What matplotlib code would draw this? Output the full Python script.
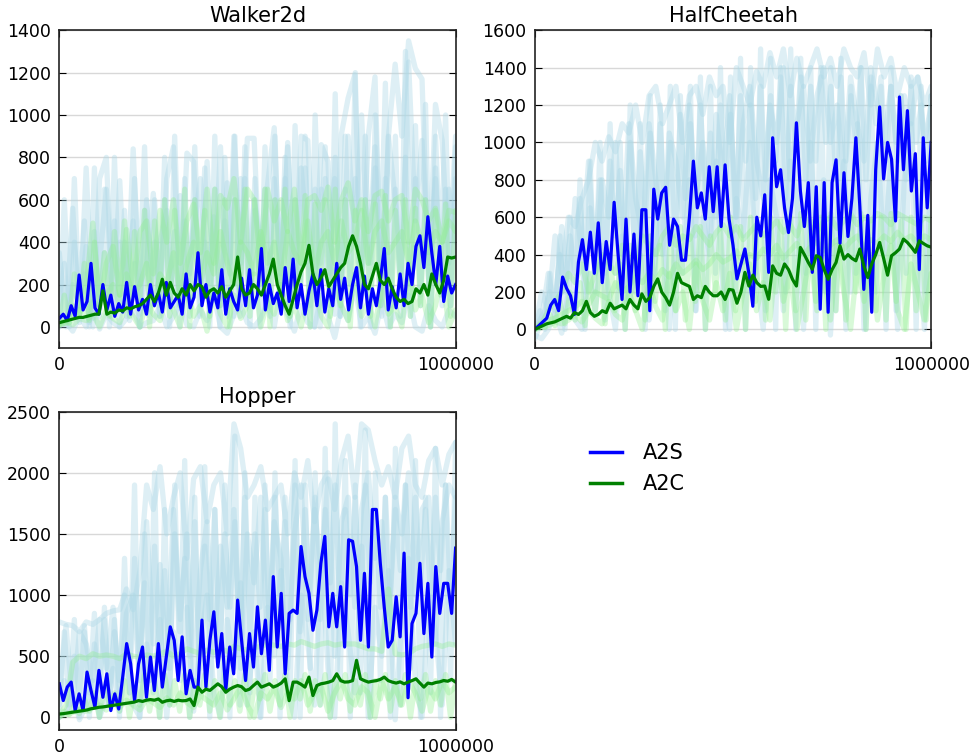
import numpy as np
import matplotlib
matplotlib.use('Agg')
import matplotlib.pyplot as plt
from matplotlib.lines import Line2D

# ---------------- Walker2d ----------------
walker_a2s = [40, 60, 30, 100, 50, 245, 80, 120, 300, 90,
              60, 200, 80, 150, 50, 110, 70, 210, 60, 190,
              80, 130, 60, 200, 100, 160, 70, 210, 90, 120,
              150, 60, 250, 90, 140, 350, 100, 200, 70, 160,
              90, 270, 60, 180, 120, 80, 230, 100, 270, 90,
              150, 370, 80, 200, 110, 160, 60, 280, 120, 320,
              90, 200, 60, 170, 250, 100, 270, 70, 180, 100,
              300, 130, 230, 80, 200, 280, 90, 240, 60, 180,
              100, 220, 370, 80, 190, 90, 250, 100, 300, 200,
              380, 430, 280, 520, 350, 200, 380, 120, 240, 160, 200]
walker_a2c = [20, 25, 30, 35, 40, 45, 45, 50, 55, 60,
              60, 170, 60, 70, 65, 80, 75, 90, 85, 95,
              100, 110, 130, 150, 120, 160, 225, 150, 210, 160,
              140, 180, 150, 200, 170, 200, 190, 140, 170, 180,
              160, 190, 140, 170, 200, 330, 180, 150, 160, 200,
              180, 150, 200, 250, 320, 200, 150, 100, 60, 130,
              200, 260, 300, 385, 250, 200, 230, 270, 190, 220,
              250, 280, 300, 380, 430, 380, 300, 200, 180, 240,
              300, 220, 200, 230, 180, 140, 120, 130, 110, 120,
              180, 160, 200, 150, 250, 200, 160, 220, 330, 325, 330]
walker_a2s_seeds = [
    [350, 30, 560, 20, 750, 40, 700, 800, 100, 690, 50, 840, 60, 300, 630, 50, 700, 850, 100, 820,
     780, 100, 780, 200, 850, 50, 900, 300, 890, 890, 150, 670, 940, 100, 870, 160, 900, 880, 200, 860,
     780, 60, 910, 1080, 1190, 150, 900, 1180, 100, 900, 1240, 900, 1350, 1220, 1170, 200, 1050, 880, 300, 900],
    [50, 0, 200, 100, 380, 0, 300, 650, 80, 400, 200, 500, 0, 600, 150, 400, 550, 100, 620, 150,
     450, 700, 200, 520, 100, 680, 50, 700, 200, 600, 400, 100, 700, 250, 850, 100, 750, 400, 0, 650,
     200, 700, 100, 900, 400, 1000, 300, 850, 50, 900, 600, 200, 1250, 500, 880, 300, 700, 100, 650, 400],
    [0, 20, -20, 50, 0, 100, -10, 60, 20, 0, 40, 80, 0, 20, 30, 100, 0, 50, 120, 10,
     0, 80, 30, 150, 0, -30, 60, 100, 20, 0, 40, 120, 0, 200, 60, -20, 100, 20, 0, 150,
     50, -50, 100, 30, 200, 0, 50, -30, 120, 0, 60, 20, 150, 0, -20, 100, 30, 0, 80, 50],
    [0, 600, 50, 700, 100, 500, 20, 750, 150, 650, 0, 800, 100, 550, 30, 700, 200, 850, 50, 600,
     100, 800, 0, 900, 150, 700, 50, 850, 200, 750, 0, 900, 100, 800, 250, 900, 50, 850, 150, 700,
     0, 850, 300, 900, 100, 800, 50, 950, 200, 900, 0, 1000, 300, 850, 100, 1100, 50, 900, 200, 1200,
     100, 900, 0, 1000, 300, 1150, 100, 900, 50, 1300, 200, 950, 100, 1050, 0, 900, 300, 1000, 100, 850],
    [20, 300, 0, 400, 100, 250, 0, 450, 50, 350, 150, 500, 0, 400, 100, 300, 0, 550, 200, 400,
     50, 600, 100, 450, 0, 500, 250, 600, 50, 400, 150, 650, 0, 500, 300, 600, 100, 700, 0, 550,
     200, 650, 50, 600, 300, 700, 0, 600, 150, 750, 100, 650, 0, 700, 250, 800, 50, 650, 200, 700,
     0, 600, 300, 750, 100, 700, 0, 650, 200, 800, 50, 700, 150, 600, 0, 750, 250, 650, 100, 700],
]
walker_a2c_seeds = [
    [10, 20, 100, 60, 200, 490, 100, 300, 380, 150, 460, 200, 450, 500, 250, 550, 400, 600, 300, 500,
     580, 350, 650, 300, 620, 560, 700, 400, 650, 600, 300, 650, 500, 600, 450, 650, 300, 600, 620, 550,
     660, 400, 600, 680, 500, 600, 450, 620, 640, 500, 600, 620, 400, 650, 600, 500, 560, 400, 550, 540],
    [10, 20, 10, 40, 30, 60, 0, 80, 40, 20, 100, 50, 0, 120, 60, 30, 150, 80, 0, 200,
     50, 100, -20, 180, 60, 0, 150, 40, 100, 250, 0, 120, 60, 200, 30, 100, 0, 150, 250, 50,
     0, 180, 100, 30, 250, 50, 120, 0, 200, 60, 100, 0, 300, 80, 150, 20, 100, 250, 0, 80],
    [15, 30, 50, 80, 60, 120, 100, 150, 200, 100, 250, 150, 200, 300, 100, 250, 200, 350, 150, 300,
     400, 200, 350, 250, 450, 300, 200, 400, 350, 250, 450, 300, 400, 200, 450, 350, 300, 500, 250, 400,
     450, 300, 500, 350, 400, 550, 300, 450, 500, 350, 400, 450, 300, 500, 400, 350, 450, 400, 500, 450],
    [10, 150, 20, 250, 50, 300, 30, 400, 100, 350, 50, 450, 150, 500, 50, 450, 100, 550, 0, 500,
     150, 600, 50, 550, 100, 650, 0, 600, 200, 550, 50, 650, 100, 600, 0, 600, 150, 650, 50, 600,
     200, 650, 0, 600, 100, 650, 50, 600, 150, 620, 0, 580, 200, 600, 50, 650, 100, 600, 0, 550,
     150, 600, 50, 580, 100, 620, 0, 550, 200, 600, 50, 560, 100, 600, 0, 550, 150, 580, 50, 550],
]

# ---------------- HalfCheetah ----------------
cheetah_a2s = [0, 20, 40, 60, 130, 160, 100, 280, 220, 180,
               80, 360, 480, 320, 520, 300, 570, 250, 470, 320,
               680, 400, 160, 590, 200, 510, 180, 640, 640, 100,
               750, 590, 730, 760, 450, 590, 550, 370, 370, 600,
               900, 650, 730, 590, 870, 630, 870, 550, 880, 590,
               450, 270, 350, 430, 300, 124, 600, 500, 720, 305,
               1025, 763, 854, 650, 518, 700, 1105, 740, 550, 785,
               305, 763, 108, 785, 92, 785, 907, 460, 838, 497,
               700, 1025, 657, 214, 610, 92, 854, 1190, 805, 1000,
               910, 580, 1243, 854, 1170, 740, 940, 320, 1025, 650, 1000]
cheetah_a2c = [0, 10, 20, 30, 35, 40, 50, 60, 70, 60,
               90, 80, 100, 150, 90, 70, 80, 100, 90, 140,
               110, 120, 130, 110, 160, 130, 110, 190, 150, 170,
               230, 270, 200, 170, 130, 200, 300, 250, 240, 230,
               160, 180, 170, 230, 200, 180, 180, 200, 160, 214,
               210, 140, 200, 305, 232, 290, 250, 230, 232, 161,
               340, 300, 290, 350, 320, 268, 232, 438, 400, 358,
               322, 394, 385, 320, 268, 320, 358, 447, 376, 400,
               380, 367, 430, 340, 277, 350, 400, 465, 380, 290,
               394, 410, 430, 483, 465, 440, 412, 474, 460, 447, 440]
cheetah_a2s_seeds = [
    [0, 200, 100, 500, 300, 600, 550, 700, 800, 1000, 900, 1030, 950, 1100, 1050, 1200, 1000, 1250, 1300, 1100,
     1200, 1300, 1000, 1250, 1300, 1150, 1350, 1250, 1300, 1000, 1400, 1300, 1200, 1380, 1300, 1480, 1350, 1500, 1250, 1450,
     1300, 1400, 1500, 1350, 1450, 1300, 1500, 1400, 1350, 1480, 1200, 1500, 1350, 1450, 1250, 1400, 1300, 1350, 1200, 1300],
    [-50, 50, 300, 100, 550, 200, 700, 400, 900, 300, 800, 600, 1000, 400, 1100, 700, 500, 1100, 800, 400,
     1050, 900, 600, 1200, 700, 1000, 500, 1150, 800, 1250, 600, 1100, 1300, 900, 700, 1200, 1000, 1400, 800, 1100,
     1300, 900, 1250, 1400, 1000, 1200, 800, 1350, 1100, 900, 1400, 1200, 1000, 1300, 900, 1250, 1100, 1350, 1000, 1200],
    [-30, -50, 0, 100, -20, 200, 50, 0, 300, 100, 450, 200, 0, 500, 150, 300, 600, 50, 400, 700,
     0, 500, 300, 800, 100, 600, 400, 900, 200, 0, 700, 500, 1000, 300, 0, 800, 600, 100, 900, 700,
     0, 1000, 400, 800, -30, 600, 900, 200, 1100, 0, 700, 1000, 400, 900, 0, 800, 1100, 500, 0, 900],
    [0, 100, 0, 300, 50, 500, 0, 600, 100, 800, 0, 900, 200, 1000, 50, 1100, 300, 1000, 0, 1200,
     200, 1100, 0, 1250, 300, 1200, 100, 1300, 0, 1250, 400, 1300, 100, 1350, 0, 1300, 300, 1400, 0, 1350,
     200, 1450, 0, 1400, 300, 1500, 100, 1450, 0, 1400, 200, 1500, 0, 1450, 300, 1400, 0, 1350, 200, 1400,
     100, 1450, 0, 1300, 300, 1400, 0, 1350, 200, 1300, 0, 1400, 100, 1250, 300, 1350, 0, 1300, 200, 1250],
    [0, 50, 100, 200, 150, 400, 200, 500, 300, 700, 200, 650, 400, 800, 300, 900, 500, 850, 400, 1000,
     300, 950, 600, 1050, 400, 1100, 600, 1000, 500, 1150, 700, 1100, 500, 1200, 700, 1050, 600, 1200, 800, 1150,
     600, 1250, 900, 1200, 700, 1300, 800, 1250, 900, 1350, 700, 1300, 1000, 1350, 800, 1300, 900, 1400, 1000, 1300,
     800, 1350, 900, 1250, 1000, 1400, 800, 1300, 1100, 1350, 900, 1300, 1000, 1250, 800, 1300, 1000, 1200, 900, 1250],
]
cheetah_a2c_seeds = [
    [0, 30, 100, 150, 200, 300, 250, 350, 200, 300, 400, 350, 300, 450, 400, 350, 500, 450, 400, 500,
     550, 450, 500, 480, 550, 500, 450, 520, 560, 500, 550, 480, 520, 560, 500, 540, 580, 520, 560, 500,
     600, 550, 520, 580, 600, 540, 580, 620, 560, 600, 580, 620, 600, 560, 620, 600, 580, 560, 600, 580],
    [0, 10, 20, 40, 30, 50, 80, 40, 100, 60, 30, 150, 80, 50, 200, 100, 0, 250, 120, 50,
     300, 100, 200, 0, 350, 150, 50, 250, 100, 300, 0, 200, 350, 100, 250, 50, 400, 150, 300, 0,
     200, 400, 100, 300, 50, 450, 200, 0, 350, 150, 400, 50, 300, 450, 100, 0, 350, 200, 50, 300],
    [10, 20, 50, 60, 80, 100, 120, 150, 130, 200, 180, 160, 250, 200, 230, 280, 250, 300, 260, 320,
     280, 350, 300, 330, 370, 320, 350, 400, 360, 380, 420, 360, 400, 380, 430, 400, 450, 380, 420, 460,
     400, 440, 470, 420, 450, 480, 430, 470, 500, 440, 480, 460, 500, 470, 520, 480, 500, 460, 500, 480],
    [0, 30, 10, 80, 20, 150, 30, 200, 50, 250, 20, 300, 80, 350, 30, 400, 100, 350, 0, 450,
     100, 400, 50, 500, 150, 450, 0, 500, 100, 550, 50, 500, 150, 550, 0, 500, 200, 550, 50, 600,
     100, 550, 0, 600, 150, 550, 50, 600, 200, 580, 0, 600, 100, 620, 50, 580, 150, 600, 0, 620,
     100, 580, 50, 600, 200, 620, 0, 580, 100, 600, 50, 620, 150, 580, 0, 600, 100, 580, 50, 600],
]

# ---------------- Hopper ----------------
hopper_a2s = [274, 137, 247, 288, 55, 192, 55, 370, 220, 82,
              384, 164, 356, 55, 192, 68, 329, 603, 438, 137,
              438, 575, 164, 493, 219, 603, 247, 493, 740, 630,
              301, 658, 192, 384, 247, 247, 795, 247, 630, 863,
              411, 685, 219, 575, 356, 959, 630, 301, 685, 411,
              904, 520, 795, 384, 1151, 575, 1014, 356, 850, 877,
              850, 1397, 1151, 1014, 712, 877, 1260, 1480, 740, 1014,
              740, 1069, 575, 1452, 1440, 1233, 630, 1178, 575, 1700,
              1700, 1260, 900, 575, 630, 986, 658, 1343, 160, 767,
              850, 1260, 685, 1096, 493, 1233, 850, 1096, 1096, 850, 1384]
hopper_a2c = [27, 30, 35, 40, 45, 50, 55, 60, 70, 75,
              82, 85, 90, 95, 100, 105, 110, 115, 120, 125,
              137, 130, 140, 145, 140, 150, 123, 135, 140, 130,
              140, 135, 137, 150, 96, 247, 205, 230, 220, 247,
              274, 250, 205, 230, 247, 260, 250, 219, 230, 260,
              288, 247, 260, 274, 247, 260, 280, 315, 136, 288,
              288, 270, 247, 329, 178, 260, 274, 280, 288, 300,
              356, 300, 288, 290, 300, 466, 315, 300, 288, 295,
              300, 310, 329, 300, 288, 280, 290, 274, 288, 300,
              315, 280, 247, 280, 274, 285, 290, 301, 295, 310, 288]
hopper_a2s_seeds = [
    [780, 760, 750, 700, 780, 760, 800, 850, 870, 880, 1050, 880, 1200, 1900, 1700, 2050, 1500, 1800, 2000, 1300,
     1950, 2050, 1600, 1900, 2000, 1500, 2400, 2200, 1800, 1900, 2050, 1700, 1800, 1900, 1500, 2000, 1800, 2100, 1600, 1900,
     2000, 1700, 2100, 2300, 1800, 2400, 2350, 2100, 1900, 2050, 1800, 2200, 2300, 1900, 1800, 2100, 2200, 1900, 2150, 2250],
    [200, 750, 100, 700, 600, 300, 800, 400, 900, 200, 850, 1000, 300, 1600, 600, 1250, 400, 1700, 800, 1500,
     300, 1200, 1600, 500, 1400, 900, 1700, 400, 1500, 1100, 1800, 600, 1600, 1300, 400, 1500, 1900, 800, 1700, 1200,
     1950, 500, 1600, 1800, 900, 1700, 2000, 1300, 1600, 700, 1800, 1500, 2000, 1000, 1700, 1800, 600, 1600, 1900, 1800],
    [0, 50, 200, -20, 100, 300, 0, 150, 400, 50, 500, 100, 0, 600, 200, 800, 0, 700, 300, 900,
     50, 600, 1000, 200, 0, 800, 400, 1100, 100, 700, 0, 900, 500, 1200, 200, 0, 1000, 600, 100, 1300,
     400, 0, 1100, 700, 200, 1400, 0, 900, 500, 1200, -20, 800, 1300, 300, 0, 1000, 700, 100, 1200, 600],
    [0, 700, 100, 800, 0, 750, 200, 850, 0, 900, 100, 800, 0, 1300, 200, 1900, 0, 1500, 300, 2000,
     0, 1700, 100, 1900, 400, 2100, 0, 1800, 200, 2050, 0, 1700, 300, 1900, 0, 2300, 100, 2000, 200, 1800,
     0, 1900, 300, 2000, 0, 1800, 200, 2100, 0, 1900, 400, 2000, 100, 2200, 0, 2400, 300, 2100, 0, 1900,
     200, 2350, 0, 2000, 300, 1800, 0, 2200, 100, 1900, 400, 2100, 0, 1800, 200, 2200, 0, 1900, 300, 2250],
    [100, 300, 50, 500, 200, 700, 0, 600, 300, 800, 100, 700, 300, 1000, 200, 1300, 500, 1100, 300, 1400,
     600, 1200, 400, 1500, 700, 1300, 500, 1600, 400, 1400, 800, 1700, 500, 1500, 900, 1600, 600, 1800, 700, 1500,
     900, 1700, 600, 1800, 1000, 1600, 800, 1900, 700, 1700, 1000, 1800, 800, 1700, 1100, 1900, 900, 1700, 1000, 1800,
     800, 1900, 1100, 1700, 900, 1800, 1000, 1700, 1200, 1900, 900, 1800, 1100, 1700, 1000, 1800, 1200, 1900, 1000, 1800],
]
hopper_a2c_seeds = [
    [20, 100, 450, 500, 480, 520, 500, 510, 500, 480, 520, 500, 490, 510, 500, 520, 540, 500, 520, 560,
     540, 520, 550, 530, 560, 540, 580, 560, 550, 570, 580, 600, 590, 580, 600, 590, 620, 600, 580, 600,
     610, 590, 600, 600, 600, 580, 560, 560, 540, 1050, 520, 510, 520, 560, 580, 590, 600, 580, 600, 590],
    [10, 20, 40, 60, 50, 80, 100, 60, 120, 80, 140, 100, 60, 150, 120, 80, 160, 100, 200, 120,
     80, 180, 140, 100, 200, 60, 150, 250, 100, 0, 200, 150, 250, 80, 200, 150, 300, 100, 200, 250,
     50, 200, 300, 150, 100, 250, 200, 0, 300, 150, 250, 100, 300, 200, 50, 250, 150, 300, 200, 250],
    [0, 50, 20, 100, 30, 150, 50, 200, 0, 250, 100, 200, 50, 300, 0, 250, 100, 350, 50, 300,
     0, 350, 100, 300, 50, 350, 0, 300, 100, 350, 50, 300, 0, 350, 100, 300, 50, 350, 0, 300,
     150, 350, 50, 300, 100, 350, 0, 300, 150, 350, 50, 300, 100, 350, 0, 300, 150, 350, 50, 300,
     100, 350, 0, 300, 150, 350, 50, 300, 100, 350, 0, 300, 150, 350, 50, 300, 100, 350, 0, 300],
]

titles = ['Walker2d', 'HalfCheetah', 'Hopper']
yticks = [range(0, 1401, 200), range(0, 1601, 200), range(0, 2501, 500)]
ylims = [(-100, 1400), (-100, 1600), (-100, 2500)]
panels = [
    (walker_a2s, walker_a2c, walker_a2s_seeds, walker_a2c_seeds),
    (cheetah_a2s, cheetah_a2c, cheetah_a2s_seeds, cheetah_a2c_seeds),
    (hopper_a2s, hopper_a2c, hopper_a2s_seeds, hopper_a2c_seeds),
]

max_steps = 1000000


def steps(vals):
    return np.linspace(0, max_steps, len(vals))


plt.rcParams['font.family'] = 'DejaVu Sans'
plt.rcParams['font.size'] = 12

fig = plt.figure(figsize=(9.72, 7.56), dpi=100)
plt.subplots_adjust(left=0.061, right=0.958, bottom=0.035, top=0.96, wspace=0.2, hspace=0.2)

for i, (a2s, a2c, a2s_seeds, a2c_seeds) in enumerate(panels):
    ax = plt.subplot(2, 2, i + 1)
    # individual runs, pale
    for s in a2s_seeds:
        ax.plot(steps(s), s, color='lightblue', alpha=0.4, lw=3.8, solid_capstyle='round')
    for s in a2c_seeds:
        ax.plot(steps(s), s, color='lightgreen', alpha=0.35, lw=3.8, solid_capstyle='round')
    # mean curves
    ax.plot(steps(a2s), a2s, color='blue', lw=2.3)
    ax.plot(steps(a2c), a2c, color='green', lw=2.3)
    ax.set_title(titles[i], fontsize=15)
    ax.set_xlim(0, max_steps)
    ax.set_ylim(*ylims[i])
    ax.set_xticks([0, max_steps])
    ax.set_xticklabels(['0', '1000000'])
    ax.set_yticks(list(yticks[i]))
    ax.yaxis.grid(True, color='#d8d8d8', lw=1)
    ax.set_axisbelow(True)
    ax.tick_params(direction='in', length=5, top=True, right=True, labelsize=12.5, pad=6)
    for sp in ax.spines.values():
        sp.set_linewidth(1.2)
        sp.set_color('#222222')

handles = [Line2D([], [], color='blue', lw=2.5), Line2D([], [], color='green', lw=2.5)]
fig.legend(handles, ['A2S', 'A2C'], loc='upper left', bbox_to_anchor=(0.607, 0.414),
           frameon=False, fontsize=15, handlelength=1.55, handletextpad=1.0,
           labelspacing=0.55, borderpad=0, borderaxespad=0)

plt.savefig('out.png', dpi=100)
